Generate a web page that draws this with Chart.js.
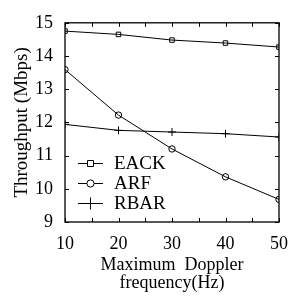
<!DOCTYPE html>
<html>
<head>
<meta charset="utf-8">
<script src="https://cdn.jsdelivr.net/npm/chart.js@4"></script>
<style>
  html, body { margin: 0; padding: 0; background: #fff; }
  #wrap { width: 302px; height: 298px; }
</style>
</head>
<body>
<div id="wrap"><canvas id="chart" width="302" height="298"></canvas></div>
<script>
// values
const freqs = [10, 20, 30, 40, 50];
const eack  = [14.75, 14.65, 14.48, 14.39, 14.27];
const arf   = [13.59, 12.22, 11.20, 10.36, 9.68];
const rbar  = [11.94, 11.76, 11.71, 11.66, 11.56];
const seriesNames = ['EACK', 'ARF', 'RBAR'];
const markers = ['rect', 'circle', 'cross'];
const xMinorTicks = [10, 15, 20, 25, 30, 35, 40, 45, 50];
const yTicks = [9, 10, 11, 12, 13, 14, 15];

const FONT = "'Liberation Serif', 'DejaVu Serif', serif";

function pts(ys) {
  return freqs.map((x, i) => ({ x: x, y: ys[i] }));
}

function mkSet(label, ys, marker) {
  return {
    label: label,
    data: pts(ys),
    borderColor: '#000',
    borderWidth: 1,
    backgroundColor: 'rgba(0,0,0,0)',
    pointStyle: marker,
    pointRadius: marker === 'cross' ? 4 : 3.2,
    pointBorderColor: '#000',
    pointBorderWidth: 1,
    tension: 0
  };
}

// box, inward ticks and the inset legend
const framePlugin = {
  id: 'frame',
  afterDraw(chart) {
    const ctx = chart.ctx;
    const a = chart.chartArea;
    const xs = chart.scales.x, ys = chart.scales.y;
    ctx.save();
    ctx.strokeStyle = '#000';
    ctx.lineWidth = 1.3;
    ctx.strokeRect(a.left, a.top, a.right - a.left, a.bottom - a.top);

    ctx.lineWidth = 1;
    ctx.beginPath();
    xMinorTicks.forEach(v => {
      const px = Math.round(xs.getPixelForValue(v)) + 0.5;
      ctx.moveTo(px, a.bottom); ctx.lineTo(px, a.bottom - 4);
      ctx.moveTo(px, a.top);    ctx.lineTo(px, a.top + 4);
    });
    yTicks.forEach(v => {
      const py = Math.round(ys.getPixelForValue(v)) + 0.5;
      ctx.moveTo(a.left, py);  ctx.lineTo(a.left + 4, py);
      ctx.moveTo(a.right, py); ctx.lineTo(a.right - 4, py);
    });
    ctx.stroke();

    // legend
    const lx0 = 78, lx1 = 103, tx = 114;
    const rows = [163, 183, 203];
    ctx.font = '19px ' + FONT;
    ctx.fillStyle = '#000';
    ctx.textBaseline = 'middle';
    seriesNames.forEach((name, i) => {
      const y = rows[i] + 0.5;
      ctx.beginPath();
      ctx.moveTo(lx0, y); ctx.lineTo(lx1, y);
      ctx.stroke();
      const cx = (lx0 + lx1) / 2;
      ctx.beginPath();
      if (markers[i] === 'rect') {
        ctx.rect(cx - 3, y - 3, 6, 6);
      } else if (markers[i] === 'circle') {
        ctx.arc(cx, y, 3.6, 0, Math.PI * 2);
      } else {
        ctx.moveTo(cx, y - 6); ctx.lineTo(cx, y + 6);
      }
      ctx.fillStyle = '#fff';
      if (markers[i] !== 'cross') ctx.fill();
      ctx.stroke();
      ctx.fillStyle = '#000';
      ctx.fillText(name, tx, rows[i] + 1);
    });
    ctx.restore();
  }
};

new Chart(document.getElementById('chart'), {
  type: 'line',
  data: {
    datasets: [
      mkSet(seriesNames[0], eack, markers[0]),
      mkSet(seriesNames[1], arf, markers[1]),
      mkSet(seriesNames[2], rbar, markers[2])
    ]
  },
  options: {
    responsive: false,
    animation: false,
    layout: { padding: { top: 13, right: 23, left: 0, bottom: 0 } },
    plugins: { legend: { display: false }, tooltip: { enabled: false } },
    scales: {
      x: {
        type: 'linear',
        min: 10, max: 50,
        afterFit(s) { s.height = 76; },
        ticks: { stepSize: 10, color: '#000', padding: 11, font: { family: FONT, size: 18 } },
        grid: { display: false, drawTicks: false },
        border: { display: false },
        title: {
          display: true,
          text: ['Maximum  Doppler', 'frequency(Hz)'],
          color: '#000',
          padding: { top: 0, bottom: 6 },
          font: { family: FONT, size: 18, lineHeight: 1.0 }
        }
      },
      y: {
        min: 9, max: 15,
        afterFit(s) { s.width = 65; },
        ticks: { stepSize: 1, color: '#000', padding: 12, font: { family: FONT, size: 18 } },
        grid: { display: false, drawTicks: false },
        border: { display: false },
        title: {
          display: true,
          text: 'Throughput (Mbps)',
          color: '#000',
          padding: { top: 12, bottom: 0 },
          font: { family: FONT, size: 19, lineHeight: 1.1 }
        }
      }
    }
  },
  plugins: [framePlugin]
});
</script>
</body>
</html>
